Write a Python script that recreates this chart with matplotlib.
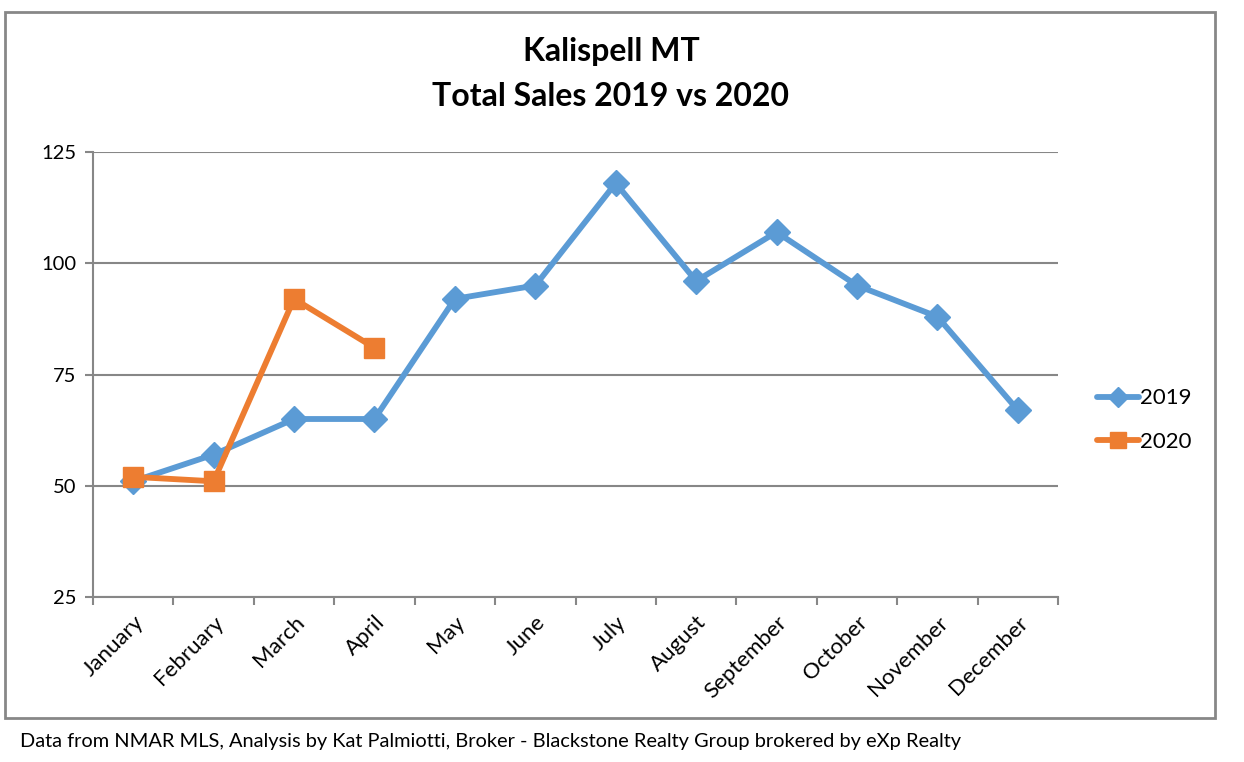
import matplotlib
matplotlib.use("Agg")
import matplotlib.pyplot as plt
from matplotlib.patches import Rectangle
import numpy as np

months = ["January", "February", "March", "April", "May", "June", "July",
          "August", "September", "October", "November", "December"]
sales_2019 = [51, 57, 65, 65, 92, 95, 118, 96, 107, 95, 88, 67]
sales_2020 = [52, 51, 92, 81]
yticks = [25, 50, 75, 100, 125]

plt.rcParams['font.family'] = ['Lato', 'DejaVu Sans']

W, H = 1244, 762
fig = plt.figure(figsize=(W / 100, H / 100), dpi=100)
ax = fig.add_axes([93 / W, 1 - 597 / H, (1058 - 93) / W, (597 - 152) / H])

x = np.arange(len(months))
ax.plot(x, sales_2019, color="#5B9BD5", lw=4.2, marker="D", markersize=13,
        label="2019", solid_capstyle="round", solid_joinstyle="round")
ax.plot(np.arange(len(sales_2020)), sales_2020, color="#ED7D31", lw=4.2, marker="s",
        markersize=15, label="2020", solid_capstyle="round", solid_joinstyle="round")

ax.set_xlim(-0.5, len(months) - 0.5)
ax.set_ylim(25, 125)
ax.set_yticks(yticks)
ax.set_yticklabels([str(v) for v in yticks], fontsize=14.5)
ax.yaxis.grid(True, color="#878787", lw=1.5)
ax.set_axisbelow(True)

ax.set_xticks(x)
ax.set_xticklabels(months, rotation=45, ha="right", rotation_mode="anchor",
                   fontsize=16)
ax.tick_params(axis="x", which="major", length=0, pad=11)
ax.set_xticks(np.arange(-0.5, len(months)), minor=True)
ax.tick_params(axis="x", which="minor", length=6, width=1.5, color="#878787", direction="out")
ax.tick_params(axis="y", length=6, width=1.5, color="#878787", direction="out", pad=6)

for s in ["top", "right"]:
    ax.spines[s].set_visible(False)
for s in ["left", "bottom"]:
    ax.spines[s].set_color("#878787")
    ax.spines[s].set_linewidth(1.5)

leg = fig.legend(loc="center left", bbox_to_anchor=(1088 / W, 1 - 420 / H), frameon=False,
                 fontsize=16, handlelength=1.9, handletextpad=0.05, labelspacing=1.05,
                 borderaxespad=0, markerscale=0.8)

fig.text(611 / W, 1 - 52 / H, "Kalispell MT", ha="center", va="center",
         fontsize=23, fontweight="bold")
fig.text(611 / W, 1 - 97 / H, "Total Sales 2019 vs 2020", ha="center", va="center",
         fontsize=23, fontweight="bold")
fig.text(20 / W, 1 - 741 / H,
         "Data from NMAR MLS, Analysis by Kat Palmiotti, Broker - Blackstone Realty Group brokered by eXp Realty",
         ha="left", va="center", fontsize=14.4)

fig.patches.append(Rectangle((5 / W, 1 - 718 / H), (1215 - 5) / W, (718 - 12) / H,
                             transform=fig.transFigure, fill=False,
                             edgecolor="#878787", lw=2))

fig.savefig("out.png", dpi=100)
